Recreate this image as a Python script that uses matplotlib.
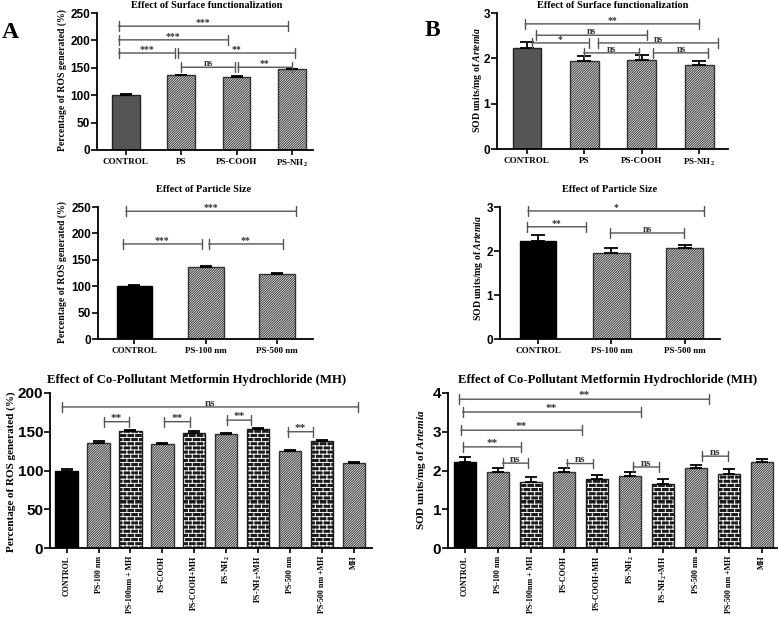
import warnings
import numpy as np
import matplotlib
matplotlib.use('Agg')
import matplotlib.pyplot as plt
import matplotlib.hatch as mhatch
from matplotlib.path import Path

warnings.filterwarnings('ignore')

# ---------------- data ----------------
sf_categories = ['CONTROL', 'PS', 'PS-COOH', 'PS-NH$_2$']
sf_ros = [100, 136, 133, 147]
sf_ros_err = [1.5, 1.5, 1.5, 1.5]
sf_sod = [2.23, 1.95, 1.97, 1.86]
sf_sod_err = [0.13, 0.11, 0.10, 0.09]

ps_categories = ['CONTROL', 'PS-100 nm', 'PS-500 nm']
ps_ros = [100, 136, 124]
ps_ros_err = [1.5, 1.5, 1.5]
ps_sod = [2.23, 1.95, 2.06]
ps_sod_err = [0.13, 0.11, 0.08]

mh_categories = ['CONTROL', 'PS-100 nm', 'PS-100nm + MH', 'PS-COOH', 'PS-COOH+MH',
                 'PS-NH$_2$', 'PS-NH$_2$+MH', 'PS-500 nm', 'PS-500 nm +MH', 'MH']
mh_ros = [100, 136, 151, 134, 149, 147, 153, 125, 138, 110]
mh_ros_err = [1.5, 1.5, 1.5, 1.2, 1.5, 1.2, 1.2, 1.2, 1.5, 1.2]
mh_sod = [2.23, 1.95, 1.70, 1.97, 1.77, 1.86, 1.66, 2.06, 1.91, 2.21]
mh_sod_err = [0.13, 0.11, 0.12, 0.10, 0.11, 0.09, 0.11, 0.08, 0.12, 0.09]

# significance brackets: (x start, x end, y, label)
sf_ros_sig = [(-0.13, 2.93, 226, '***'), (-0.13, 1.84, 201, '***'), (-0.13, 0.89, 177, '***'),
              (0.94, 3.06, 177, '**'), (1.0, 1.97, 151, 'ns'), (2.02, 3.0, 151, '**')]
sf_sod_sig = [(-0.03, 3.0, 2.76, '**'), (0.16, 2.09, 2.51, 'ns'), (0.09, 1.08, 2.34, '*'),
              (1.24, 3.33, 2.34, 'ns'), (0.99, 1.95, 2.12, 'ns'), (2.2, 3.16, 2.12, 'ns')]
ps_ros_sig = [(-0.12, 2.26, 242, '***'), (-0.16, 0.94, 180, '***'), (1.04, 2.08, 180, '**')]
ps_sod_sig = [(-0.14, 2.26, 2.91, '*'), (-0.15, 0.65, 2.55, '**'), (0.98, 1.99, 2.41, 'ns')]
mh_ros_sig = [(-0.14, 9.14, 182, 'ns'), (1.18, 1.95, 163, '**'), (3.06, 3.87, 163, '**'),
              (5.02, 5.78, 165, '**'), (6.93, 7.71, 150, '**')]
mh_sod_sig = [(-0.17, 7.4, 3.84, '**'), (-0.07, 5.32, 3.51, '**'), (-0.12, 3.55, 3.04, '**'),
              (-0.05, 1.69, 2.61, '**'), (1.14, 1.92, 2.19, 'ns'), (3.08, 3.88, 2.18, 'ns'),
              (5.1, 5.88, 2.09, 'ns'), (7.18, 7.97, 2.37, 'ns')]

sf_styles = ['gray', 'diag', 'diag', 'diag']
ps_styles = ['black', 'diag', 'diag']
mh_styles = ['black', 'diag', 'brick', 'diag', 'brick', 'diag', 'brick', 'diag', 'brick', 'diag']

# ---------------- custom brick hatch ----------------
class BrickHatch(mhatch.HatchPatternBase):
    def __init__(self, hatch, density):
        n = hatch.count('b')
        self.rows = 24 if n else 0
        self.cols = 13
        self.num_vertices = (self.rows * 2 + self.rows * self.cols * 2) if n else 0

    def set_vertices_and_codes(self, vertices, codes):
        r, c = self.rows, self.cols
        k = 0
        for i in range(r):
            y = i / r
            vertices[k] = (0.0, y)
            vertices[k + 1] = (1.0, y)
            codes[k] = Path.MOVETO
            codes[k + 1] = Path.LINETO
            k += 2
            off = 0.5 if i % 2 else 0.0
            for j in range(c):
                x = (j + off) / c
                vertices[k] = (x, y)
                vertices[k + 1] = (x, y + 1.0 / r)
                codes[k] = Path.MOVETO
                codes[k + 1] = Path.LINETO
                k += 2


mhatch._hatch_types.append(BrickHatch)

plt.rcParams['hatch.linewidth'] = 0.7
plt.rcParams['mathtext.fontset'] = 'custom'
plt.rcParams['mathtext.rm'] = 'Liberation Serif:bold'
plt.rcParams['mathtext.it'] = 'Liberation Serif:bold:italic'
plt.rcParams['mathtext.bf'] = 'Liberation Serif:bold'

SERIF = 'Liberation Serif'
SANS = 'Liberation Sans'
DIAG = '/' * 14

W, H = 780, 618
fig = plt.figure(figsize=(W / 100, H / 100), dpi=100)


def add_ax(l, t, r, b):
    return fig.add_axes([l / W, 1 - b / H, (r - l) / W, (b - t) / H])


def ftext(x, y, s, **kw):
    fig.text(x / W, 1 - y / H, s, **kw)


def draw_panel(ax, cats, vals, errs, styles, width, ylim, yticks, xlim, sig,
               tick_fs, xlab_fs, rot, capsize, sig_fs):
    x = np.arange(len(vals))
    for xi, v, st in zip(x, vals, styles):
        if st == 'gray':
            ax.bar(xi, v, width, color='#555555', edgecolor='#222222', lw=1.0, zorder=2)
        elif st == 'black':
            ax.bar(xi, v, width, color='black', edgecolor='black', lw=1.0, zorder=2)
        elif st == 'diag':
            ax.bar(xi, v, width, color='white', edgecolor='#333333', hatch=DIAG, lw=1.0, zorder=2)
        elif st == 'brick':
            ax.bar(xi, v, width, color='#1c1c1c', edgecolor='white', hatch='b', lw=0, zorder=2)
            ax.bar(xi, v, width, fill=False, edgecolor='#1c1c1c', lw=1.0, zorder=2)
    ax.errorbar(x, vals, yerr=[np.zeros(len(errs)), errs], fmt='none', ecolor='black',
                elinewidth=1.3, capsize=capsize, capthick=1.3, zorder=3)
    ax.set_xlim(*xlim)
    ax.set_ylim(*ylim)
    ax.set_yticks(yticks)
    ax.set_xticks(x)
    ax.set_xticklabels(cats, rotation=rot, fontfamily=SERIF, fontweight='bold', fontsize=xlab_fs,
                       va='top', ha='center')
    for lab in ax.get_yticklabels():
        lab.set_fontfamily(SANS)
        lab.set_fontweight('bold')
        lab.set_fontsize(tick_fs)
    ax.spines['top'].set_visible(False)
    ax.spines['right'].set_visible(False)
    ax.spines['left'].set_linewidth(1.3)
    ax.spines['bottom'].set_linewidth(1.3)
    ax.tick_params(axis='y', length=4, width=1.2, pad=1)
    ax.tick_params(axis='x', length=3.5, width=1.2, pad=2)
    for x1, x2, y, lab in sig:
        ax.annotate('', xy=(x1, y), xytext=(x2, y),
                    arrowprops=dict(arrowstyle='|-|,widthA=0.35,widthB=0.35', color='#555555',
                                    lw=1.0, shrinkA=0, shrinkB=0), zorder=4)
        ax.annotate(lab, xy=((x1 + x2) / 2, y), xytext=(0, 0.8), textcoords='offset points',
                    ha='center', va='baseline', fontfamily=SERIF, fontweight='bold',
                    fontsize=sig_fs, color='#333333')


# ---- A top ----
ax1 = add_ax(97, 13, 313, 150)
draw_panel(ax1, sf_categories, sf_ros, sf_ros_err, sf_styles, 0.5, (0, 250),
           [0, 50, 100, 150, 200, 250], (-0.52, 3.38), sf_ros_sig, 8.5, 6.5, 0, 4, 7)
# ---- B top ----
ax2 = add_ax(497, 13, 728, 149)
draw_panel(ax2, sf_categories, sf_sod, sf_sod_err, sf_styles, 0.5, (0, 3),
           [0, 1, 2, 3], (-0.52, 3.5), sf_sod_sig, 8.5, 6.5, 0, 5, 7)
# ---- A mid ----
ax3 = add_ax(98, 207, 313, 339)
draw_panel(ax3, ps_categories, ps_ros, ps_ros_err, ps_styles, 0.5, (0, 250),
           [0, 50, 100, 150, 200, 250], (-0.51, 2.5), ps_ros_sig, 8.5, 6.5, 0, 4, 7)
# ---- B mid ----
ax4 = add_ax(500, 207, 720, 339)
draw_panel(ax4, ps_categories, ps_sod, ps_sod_err, ps_styles, 0.5, (0, 3),
           [0, 1, 2, 3], (-0.52, 2.48), ps_sod_sig, 8.5, 6.5, 0, 5, 7)
# ---- A bottom ----
ax5 = add_ax(50, 393, 372, 548)
draw_panel(ax5, mh_categories, mh_ros, mh_ros_err, mh_styles, 0.7, (0, 200),
           [0, 50, 100, 150, 200], (-0.52, 9.57), mh_ros_sig, 11, 5.8, 90, 4, 8)
# ---- B bottom ----
ax6 = add_ax(448, 393, 777, 548)
draw_panel(ax6, mh_categories, mh_sod, mh_sod_err, mh_styles, 0.68, (0, 4),
           [0, 1, 2, 3, 4], (-0.51, 9.45), mh_sod_sig, 11, 5.8, 90, 4, 8)

# titles
tkw = dict(fontfamily=SERIF, fontweight='bold', ha='center', va='center')
ftext(207, 6, 'Effect of Surface functionalization', fontsize=7.5, **tkw)
ftext(613, 6, 'Effect of Surface functionalization', fontsize=7.5, **tkw)
ftext(204, 189, 'Effect of Particle Size', fontsize=7.5, **tkw)
ftext(610, 189, 'Effect of Particle Size', fontsize=7.5, **tkw)
ftext(197, 380, 'Effect of Co-Pollutant Metformin Hydrochloride (MH)', fontsize=9.2, **tkw)
ftext(608, 380, 'Effect of Co-Pollutant Metformin Hydrochloride (MH)', fontsize=9.2, **tkw)

# y labels
ykw = dict(fontfamily=SERIF, fontweight='bold', ha='center', va='center', rotation=90)
ftext(62, 80, 'Percentage of ROS generated (%)', fontsize=7, **ykw)
ftext(477, 80, 'SOD units/mg of $Artemia$', fontsize=7, **ykw)
ftext(62, 272, 'Percentage of ROS generated (%)', fontsize=7, **ykw)
ftext(478, 268, 'SOD units/mg of $Artemia$', fontsize=7, **ykw)
ftext(11, 472, 'Percentage of ROS generated (%)', fontsize=8, **ykw)
ftext(422, 470, 'SOD units/mg of $Artemia$', fontsize=8, **ykw)

# panel letters
ftext(10, 32, 'A', fontfamily=SERIF, fontweight='bold', fontsize=17, ha='center', va='center')
ftext(432, 31, 'B', fontfamily=SERIF, fontweight='bold', fontsize=17, ha='center', va='center')

fig.savefig('out.png', dpi=100)
